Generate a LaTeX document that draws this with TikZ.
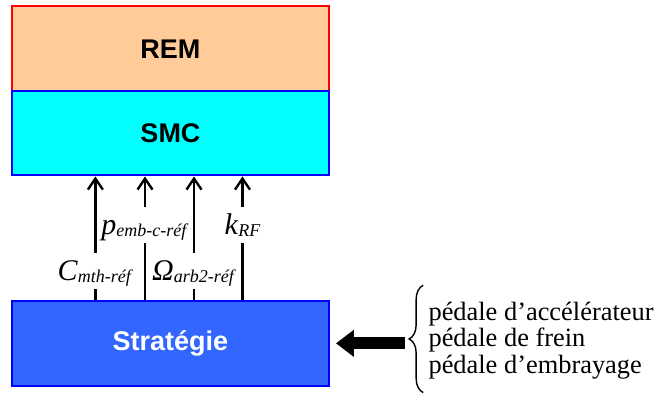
\documentclass[tikz,border=0pt]{standalone}
\usepackage{fontspec}
\setmainfont{Liberation Serif}
\newfontfamily\arialfont{Liberation Sans}
\usetikzlibrary{arrows.meta,decorations.pathreplacing}

\newcommand{\blockwidth}[0]{55.8mm}
\newcommand{\blockheight}[0]{14.85mm}
\newcommand{\sig}[2]{\textit{#1}\raisebox{-1.2pt}{\fontsize{9}{10}\selectfont\textit{#2}}}

\definecolor{remfill}{RGB}{255,204,153}
\definecolor{smcfill}{RGB}{0,255,255}
\definecolor{stratfill}{RGB}{51,102,255}

\tikzstyle{dedge} = [-{Straight Barb[length=5.5pt,width=7.5pt]},line width=1.2pt,draw=black]
\tikzstyle{bigarrow} = [-{Triangle[length=9pt,width=13pt]},line width=6pt,draw=black]
\tikzstyle{curly} = [decorate,decoration={brace,amplitude=7pt},line width=0.7pt]
\tikzstyle{block}=[
  rectangle,
  align=center,
  anchor=center,
  line width=1pt,
  minimum width=\blockwidth,
  minimum height=\blockheight,
  font=\arialfont\bfseries\fontsize{13.5}{16}\selectfont,
]
\tikzstyle{rem}=[
  block,
  draw=red,
  fill=remfill,
]
\tikzstyle{smc}=[
  block,
  draw=blue,
  fill=smcfill,
]
\tikzstyle{strategy}=[
  block,
  draw=blue,
  fill=stratfill,
  text=white,
]
\tikzstyle{signal}=[
  fill=white,
  inner xsep=1pt,
  inner ysep=0.75pt,
  text height=13pt,
  text depth=3.5pt,
  font=\fontsize{15}{18}\selectfont,
]
\tikzstyle{pedals}=[
  align=left,
  inner sep=0pt,
  font=\fontsize{13.2}{13.35}\selectfont,
]

\begin{document}
\begin{tikzpicture}
  \useasboundingbox (-29.96mm,8.56mm) rectangle (85.49mm,-60.68mm);

  \node[rem] (rem) at (0,0) {REM};
  \node[smc] (smc) at ([yshift=-14.85mm] rem.center) {SMC};
  \node[strategy] (strat) at ([yshift=-51.77mm] rem.center) {Stratégie};

  % set points sent up to the SMC
  \draw[dedge] ([xshift=-13.2mm] strat.north) -- ([xshift=-13.2mm] smc.south) node[signal,pos=0.236] {\sig{C}{mth-réf}};
  \draw[dedge] ([xshift=-4.48mm] strat.north) -- ([xshift=-4.48mm] smc.south) node[signal,pos=0.608] {\sig{p}{emb-c-réf}};
  \draw[dedge] ([xshift=4.13mm] strat.north) -- ([xshift=4.13mm] smc.south) node[signal,pos=0.236] {\sig{Ω}{arb2-réf}};
  \draw[dedge] ([xshift=12.65mm] strat.north) -- ([xshift=12.65mm] smc.south) node[signal,pos=0.608] {\sig{k}{RF}};

  % driver inputs
  \node[pedals, anchor=west] (pedals) at ([xshift=17.2mm, yshift=0.51mm] strat.east) {pédale d’accélérateur\\pédale de frein\\pédale d’embrayage};
  \draw[curly] ([xshift=-2.5pt, yshift=-6.5pt] pedals.south west) -- ([xshift=-2.5pt, yshift=8pt] pedals.north west);
  \draw[bigarrow] ([xshift=-11.5pt] pedals.west |- strat.east) -- ([xshift=1mm] strat.east);
\end{tikzpicture}
\end{document}
